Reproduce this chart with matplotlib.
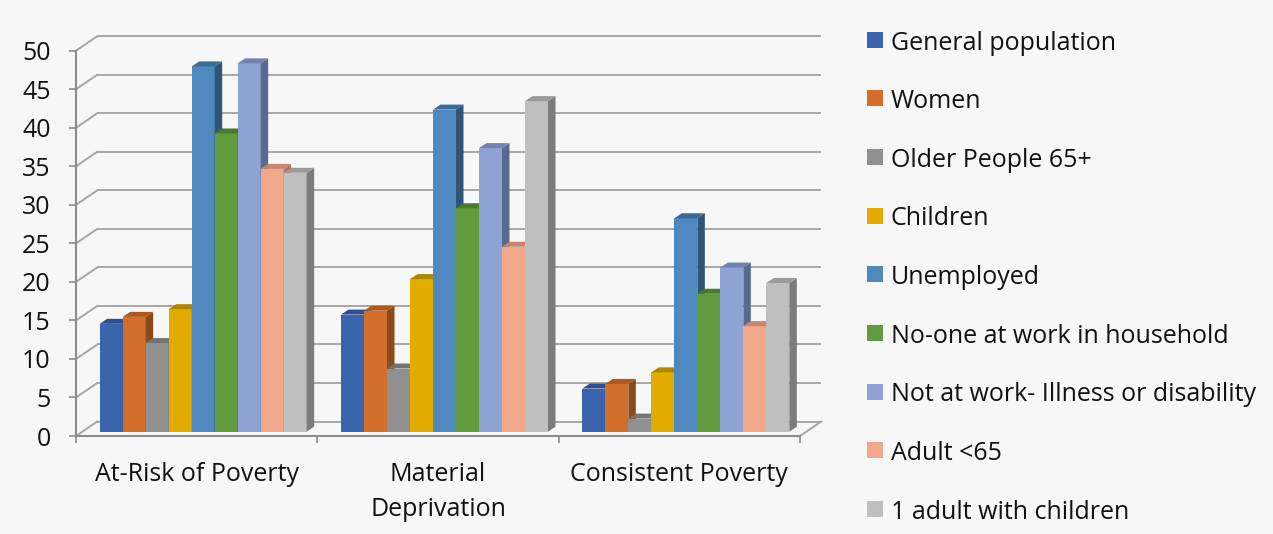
import matplotlib
matplotlib.use("Agg")
import matplotlib.pyplot as plt
from matplotlib.patches import Polygon, Rectangle

# ---------------- data ----------------
categories = ["At-Risk of Poverty", "Material\nDeprivation", "Consistent Poverty"]
series_names = ["General population", "Women", "Older People 65+", "Children",
                "Unemployed", "No-one at work in household",
                "Not at work- Illness or disability", "Adult <65",
                "1 adult with children"]
general_population = [14.0, 15.2, 5.6]
women = [14.9, 15.7, 6.2]
older_people = [11.5, 8.2, 1.7]
children = [15.9, 19.8, 7.7]
unemployed = [47.4, 41.8, 27.7]
no_one_at_work = [38.7, 29.0, 17.9]
illness_disability = [47.8, 36.8, 21.3]
adult_under_65 = [34.1, 24.0, 13.7]
one_adult_children = [33.6, 42.9, 19.3]
y_ticks = list(range(0, 51, 5))

series_values = [general_population, women, older_people, children, unemployed,
                 no_one_at_work, illness_disability, adult_under_65,
                 one_adult_children]

front_colors = ["#3a64ae", "#d46e2b", "#909090", "#e2ab00", "#4e88be",
                "#629a3e", "#8fa2d4", "#f0a78a", "#bfbfbf"]
top_colors = ["#2d5090", "#b1561c", "#747474", "#b08600", "#3a6a96",
              "#4a7a2e", "#7182b0", "#c88670", "#9a9a9a"]
side_colors = ["#25457a", "#8b4a1c", "#6e6e6e", "#a07800", "#2f5677",
               "#3d6526", "#5a6a8e", "#b07560", "#7c7c7c"]

# ---------------- layout ----------------
W, H = 1273, 534
BG = "#f7f7f7"
GRID = "#a6a6a6"
AXC = "#8c8c8c"
FONT = "Open Sans"
FS = 18

fig = plt.figure(figsize=(W / 100, H / 100), dpi=100, facecolor=BG)
ax = fig.add_axes([76 / W, (H - 436) / H, 724 / W, 385.3 / H])
ax.set_facecolor("none")
ax.set_xlim(-0.5, 2.5)
ax.set_ylim(0, 50)

px_x = 724 / 3.0      # pixels per x unit
px_y = 385.3 / 50.0   # pixels per y unit

# depth offsets (pixels -> data)
back_dx, back_dy = 21.3 / px_x, 14.5 / px_y
plane_dx, plane_dy = 6.5 / px_x, 4.3 / px_y
depth_dx, depth_dy = 7.5 / px_x, 5.0 / px_y
bar_w = 23.0 / px_x

# back wall grid lines + side wall diagonals
for v in y_ticks:
    ax.plot([-0.5 + back_dx, 2.5 + back_dx], [v + back_dy] * 2, color=GRID,
            lw=1.4, clip_on=False, zorder=1, solid_capstyle="butt")
    ax.plot([-0.5, -0.5 + back_dx], [v, v + back_dy], color=GRID, lw=1.4,
            clip_on=False, zorder=1)
# floor right edge
ax.plot([2.5, 2.5 + back_dx], [0, back_dy], color=GRID, lw=1.4,
        clip_on=False, zorder=1)

# bars with 3D faces
n = len(series_values)
for j, vals in enumerate(series_values):
    xs = [i + plane_dx + (j - (n - 1) / 2) * bar_w for i in range(len(categories))]
    z = 10 + 3 * j
    ax.bar(xs, vals, width=bar_w, bottom=plane_dy, color=front_colors[j],
           linewidth=0, zorder=z, clip_on=False)
    for x, v in zip(xs, vals):
        xl, xr = x - bar_w / 2, x + bar_w / 2
        yb, yt = plane_dy, plane_dy + v
        side = Polygon([(xr, yb), (xr + depth_dx, yb + depth_dy),
                        (xr + depth_dx, yt + depth_dy), (xr, yt)],
                       closed=True, facecolor=side_colors[j], edgecolor="none",
                       zorder=z + 1, clip_on=False)
        top = Polygon([(xl, yt), (xr, yt), (xr + depth_dx, yt + depth_dy),
                       (xl + depth_dx, yt + depth_dy)],
                      closed=True, facecolor=top_colors[j], edgecolor="none",
                      zorder=z + 1, clip_on=False)
        ax.add_patch(side)
        ax.add_patch(top)

# axes styling
for s in ["top", "right"]:
    ax.spines[s].set_visible(False)
for s in ["left", "bottom"]:
    ax.spines[s].set_color(AXC)
    ax.spines[s].set_linewidth(1.5)
    ax.spines[s].set_zorder(5)

ax.set_yticks(y_ticks)
ax.set_yticklabels([str(t) for t in y_ticks], fontsize=FS, family=FONT,
                   color="#111111")
ax.tick_params(axis="y", length=5, width=1.2, color=AXC, pad=13.2)

ax.set_xticks([-0.5, 0.5, 1.5, 2.5])
ax.set_xticklabels([])
ax.tick_params(axis="x", which="major", length=5, width=1.2, color=AXC)
ax.set_xticks([0, 1, 2], minor=True)
ax.set_xticklabels(categories, minor=True, fontsize=FS, family=FONT,
                   color="#111111", linespacing=1.5)
ax.tick_params(axis="x", which="minor", length=0, pad=19)

# legend (manual layout)
for k, name in enumerate(series_names):
    yc = 39.7 + 58.65 * k
    fig.patches.append(Rectangle((867 / W, 1 - (yc + 8) / H), 16 / W, 16 / H,
                                 transform=fig.transFigure,
                                 facecolor=front_colors[k], edgecolor="none"))
    fig.text(891 / W, 1 - (yc + 9.8) / H, name, fontsize=FS, family=FONT,
             color="#111111", va="baseline", ha="left")

fig.savefig("out.png", dpi=100, facecolor=BG)
